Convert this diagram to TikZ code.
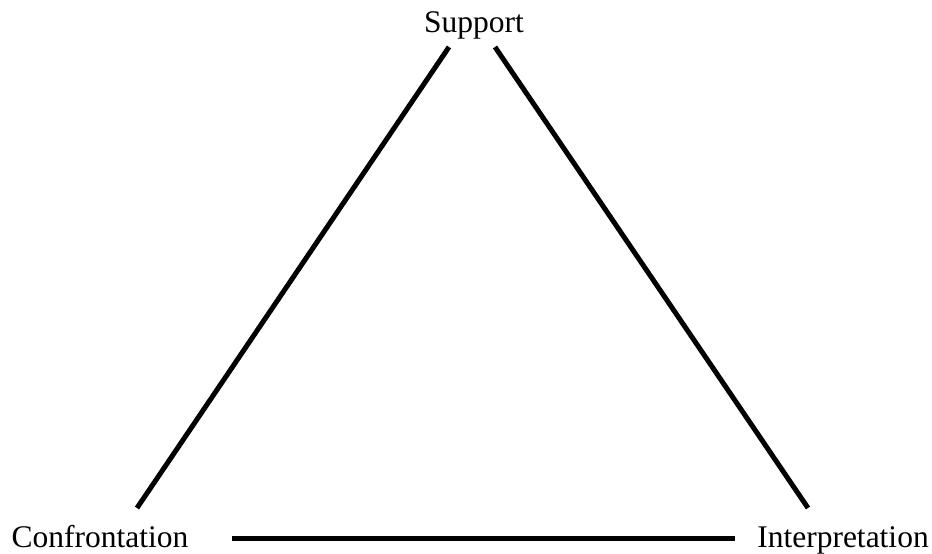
\documentclass[tikz,border=0pt]{standalone}
\usepackage{fontspec}
\setmainfont{Liberation Serif}
\usepackage{tikz}
\usetikzlibrary{positioning}
\tikzset{
  corner/.style={inner sep=0pt,anchor=base,font=\fontsize{31.5}{36}\selectfont},
  side/.style={line width=5pt,black},
}

\begin{document}
\begin{tikzpicture}[x=1pt,y=1pt]
  \useasboundingbox (0,0) rectangle (932,554);
  % ── Labels ──
  \node[corner] (sup) at (474,521) {Support};
  \node[corner] (conf) at (100,6) {Confrontation};
  \node[corner] (interp) at (843,6) {Interpretation};

  % ── Line ends ──
  \coordinate (supl) at (449,507);
  \coordinate (supr) at (495,507);
  \coordinate (confu) at (137,46);
  \coordinate (confr) at (232,15);
  \coordinate (interpu) at (808,46);
  \coordinate (interpl) at (735,15);

  % ── Sides ──
  \draw[side] (supl) -- (confu);
  \draw[side] (supr) -- (interpu);
  \draw[side] (confr) -- (interpl);
\end{tikzpicture}
\end{document}
